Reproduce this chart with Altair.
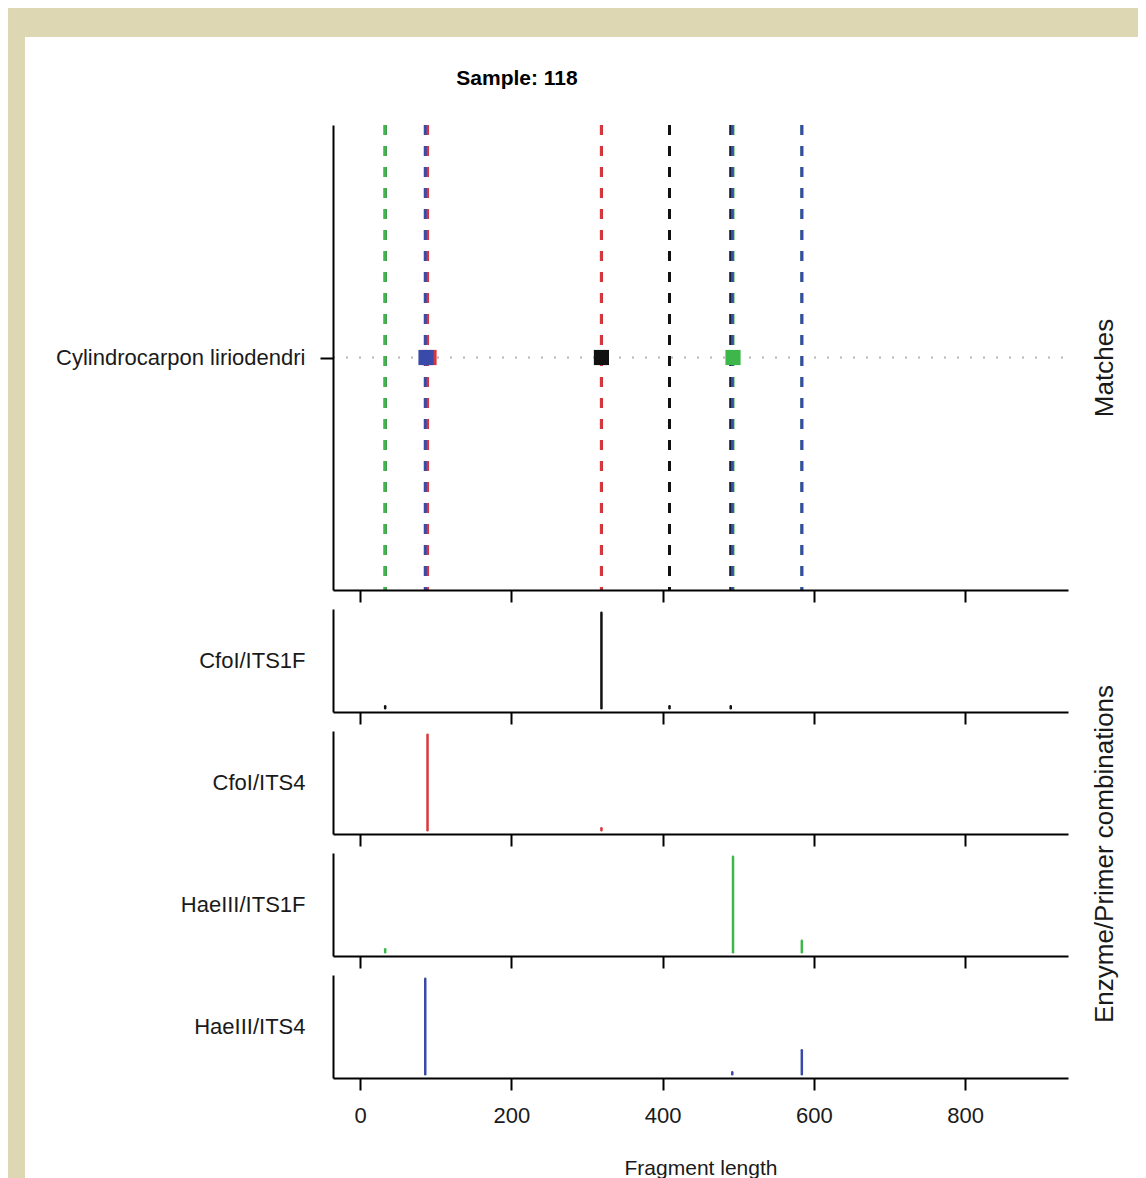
import altair as alt
import pandas as pd

# ---------------- data ----------------
title_text = "Sample: 118"
species = ["Cylindrocarpon liriodendri"]
panels = ["CfoI/ITS1F", "CfoI/ITS4", "HaeIII/ITS1F", "HaeIII/ITS4"]
panel_colors = ["#111111", "#d9373d", "#3db64a", "#3a4aa8"]

# detected peaks per enzyme/primer combination: fragment length, relative height
cfoi_its1f_len = [33, 319, 409, 490]
cfoi_its1f_h = [0.02, 1.0, 0.02, 0.02]
cfoi_its4_len = [89, 319]
cfoi_its4_h = [1.0, 0.02]
haeiii_its1f_len = [33, 493, 584]
haeiii_its1f_h = [0.03, 1.0, 0.12]
haeiii_its4_len = [86, 492, 584]
haeiii_its4_h = [1.0, 0.02, 0.25]

# expected fragments of the matched species (one per combination)
match_len = [319, 91, 493, 87]

x_ticks = [0, 200, 400, 600, 800]
x_domain = [-36, 936]
y_domain = [-0.04, 1.04]

# ---------------- tables ----------------
peak_lens = [cfoi_its1f_len, cfoi_its4_len, haeiii_its1f_len, haeiii_its4_len]
peak_hs = [cfoi_its1f_h, cfoi_its4_h, haeiii_its1f_h, haeiii_its4_h]
rows = []
for p, lens, hs in zip(panels, peak_lens, peak_hs):
    for l, h in zip(lens, hs):
        rows.append({"panel": p, "frag": l, "h": h})
peaks = pd.DataFrame(rows)
matches = pd.DataFrame({"panel": panels, "frag": match_len, "species": species * len(panels)})
sp_df = pd.DataFrame({"species": species})

W = 735
H_TOP = 465
H_P = 103
FONT = "Liberation Sans"
TXT = "#1a1a1a"

color_scale = alt.Scale(domain=panels, range=panel_colors)
x_scale = alt.Scale(domain=x_domain, nice=False, zero=False)


def x_axis(labels=False, title=None):
    kw = dict(values=x_ticks, grid=False, tickSize=12, tickWidth=2, domainWidth=2,
              domainColor="black", tickColor="black", labels=labels, zindex=1)
    if labels:
        kw.update(labelFontSize=22, labelPadding=15, labelColor=TXT, labelFont=FONT,
                  title=title, titleFontSize=21, titleFontWeight="normal",
                  titlePadding=31, titleColor=TXT, titleFont=FONT)
    else:
        kw.update(title=None)
    return alt.Axis(**kw)


# ---------------- top panel ----------------
y_sp = alt.Y("species:N", scale=alt.Scale(type="point", padding=0.5),
             axis=alt.Axis(title=None, labelFontSize=22, labelColor=TXT, labelFont=FONT,
                           labelLimit=600, tickSize=13, tickWidth=2, tickColor="black",
                           domainWidth=2, domainColor="black", labelPadding=15, grid=False,
                           zindex=1))

white = alt.Chart(sp_df).mark_rect(color="white").encode(
    x=alt.value(-308), x2=alt.value(805), y=alt.value(-88), y2=alt.value(1060))

dotted = alt.Chart(sp_df).mark_rule(color="#b5b5b5", strokeWidth=2, strokeDash=[2, 11]).encode(
    y=y_sp, x=alt.value(0), x2=alt.value(W))

vlines = alt.Chart(peaks).mark_rule(strokeWidth=3, strokeDash=[10, 11], opacity=1).encode(
    x=alt.X("frag:Q", scale=x_scale, axis=x_axis()),
    color=alt.Color("panel:N", scale=color_scale, legend=None))

squares = alt.Chart(matches).mark_square(size=230, opacity=1).encode(
    x=alt.X("frag:Q", scale=x_scale),
    y=y_sp,
    color=alt.Color("panel:N", scale=color_scale, legend=None))

title_mark = alt.Chart(sp_df).mark_text(text=title_text, font=FONT, fontSize=21, fontWeight="bold",
                                        color="black", align="center", baseline="middle").encode(
    x=alt.value(184), y=alt.value(-46))
matches_lbl = alt.Chart(sp_df).mark_text(text="Matches", font=FONT, fontSize=26, color=TXT,
                                         angle=270, align="center", baseline="middle").encode(
    x=alt.value(772), y=alt.value(243))
combo_lbl = alt.Chart(sp_df).mark_text(text="Enzyme/Primer combinations", font=FONT, fontSize=26,
                                       color=TXT, angle=270, align="center",
                                       baseline="middle").encode(
    x=alt.value(772), y=alt.value(729))

top = alt.layer(white, dotted, vlines, squares, title_mark, matches_lbl, combo_lbl).properties(
    width=W, height=H_TOP)


# ---------------- lower panels ----------------
def peak_panel(i, last=False):
    d = peaks[peaks["panel"] == panels[i]]
    return alt.Chart(d).mark_rule(color=panel_colors[i], strokeWidth=2.5, strokeCap="round").encode(
        x=alt.X("frag:Q", scale=x_scale,
                axis=x_axis(labels=last, title="Fragment length" if last else None)),
        y=alt.Y("h:Q", scale=alt.Scale(domain=y_domain, nice=False, zero=False),
                axis=alt.Axis(title=panels[i], titleAngle=0, titleAlign="right",
                              titleBaseline="middle", titleX=-28, titleY=H_P / 2,
                              titleFontSize=22, titleFontWeight="normal", titleColor=TXT,
                              titleFont=FONT, labels=False, ticks=False, grid=False,
                              domainWidth=2, domainColor="black")),
        y2=alt.datum(0),
    ).properties(width=W, height=H_P)


chart = alt.vconcat(
    top, peak_panel(0), peak_panel(1), peak_panel(2), peak_panel(3, last=True),
    spacing=19, bounds="flush",
).properties(
    background="#ddd7b4",
    padding={"left": 17, "top": 29, "right": 0, "bottom": 0},
).configure_view(stroke=None)

chart.save("out.html", embed_options={"renderer": "svg", "actions": False})
